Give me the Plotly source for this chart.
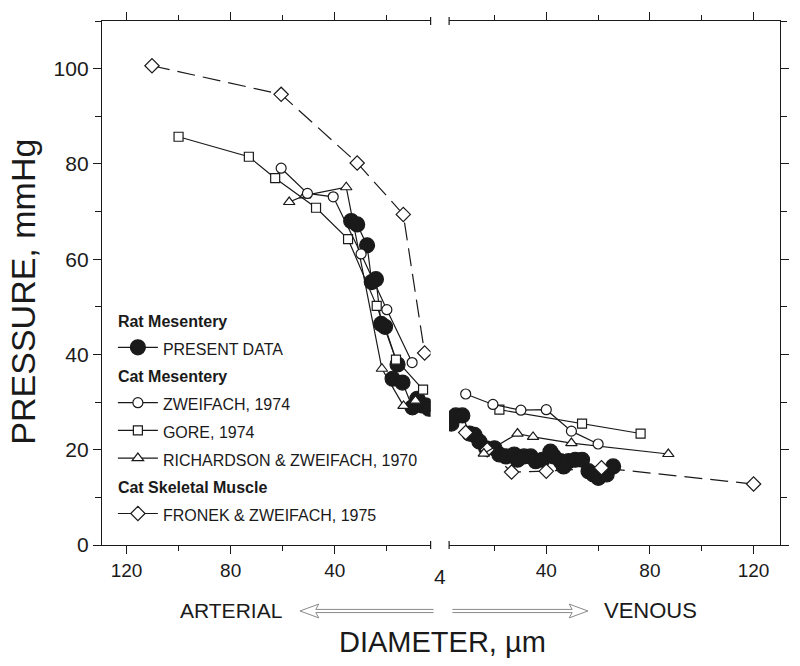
import plotly.graph_objects as go

# ---------------- data (diameter in µm, pressure in mmHg) ----------------
present_art_d = [33.7, 31.4, 27.6, 25.8, 24.2, 22.2, 20.7, 15.9, 17.8, 14.0, 10.2, 8.3, 6.5, 5.1, 3.8]
present_art_p = [68.0, 67.3, 62.9, 55.2, 55.8, 46.4, 45.8, 37.9, 34.9, 34.1, 28.9, 30.7, 29.3, 29.3, 28.6]
present_ven_d = [3.4, 5.1, 7.6, 10.4, 12.3, 14.2, 16.8, 20.0, 21.9, 24.4, 27.6, 28.9, 31.4, 34.0,
                 35.9, 38.5, 41.6, 42.9, 45.5, 46.7, 48.6, 51.2, 53.8, 56.3, 58.2, 60.1, 63.3, 65.8]
present_ven_p = [25.5, 27.2, 27.2, 23.4, 23.1, 21.7, 20.3, 20.3, 19.0, 18.6, 19.0, 17.9, 18.6, 18.6,
                 17.6, 17.9, 19.6, 18.6, 17.6, 16.5, 17.6, 17.9, 17.9, 15.5, 14.8, 14.1, 14.8, 16.5]

zweifach_art_d = [60.6, 50.5, 40.6, 29.9, 20.0, 10.3]
zweifach_art_p = [79.1, 73.8, 73.1, 61.1, 49.4, 38.3]
zweifach_ven_d = [8.9, 19.4, 30.2, 40.0, 49.7, 60.0]
zweifach_ven_p = [31.7, 29.5, 28.3, 28.4, 23.9, 21.2]

gore_art_d = [100.0, 73.0, 62.9, 47.2, 34.9, 23.9, 16.5, 6.1]
gore_art_p = [85.7, 81.5, 77.0, 70.8, 64.2, 50.2, 38.9, 32.6]
gore_ven_d = [21.9, 53.8, 76.4]
gore_ven_p = [28.4, 25.5, 23.4]

richardson_art_d = [57.5, 51.4, 35.6, 21.9, 13.6, 9.0]
richardson_art_p = [72.0, 73.4, 75.1, 37.0, 29.2, 30.3]
richardson_ven_d = [15.9, 28.9, 34.9, 49.7, 87.1]
richardson_ven_p = [19.2, 23.4, 22.7, 21.4, 19.1]

fronek_art_d = [110.2, 60.6, 31.4, 13.7, 5.5]
fronek_art_p = [100.6, 94.6, 80.2, 69.4, 40.3]
fronek_ven_d = [8.9, 17.2, 26.6, 40.0, 61.3, 120.0]
fronek_ven_p = [23.6, 20.0, 15.3, 15.5, 16.2, 12.8]

tick_vals = [40, 80, 120]
y_tick_vals = [0, 20, 40, 60, 80, 100]

# ---------------- layout geometry ----------------
W, H = 800, 666
ML, MR, MT, MB = 102, 13, 13, 121
PW, PH = W - ML - MR, H - MT - MB


def px(x):
    return (x - ML) / PW


def py(y):
    return (H - MB - y) / PH


INK = "#1a1a1a"
FONT = "Liberation Sans, Arial, sans-serif"

fig = go.Figure()


def small(t):
    return f"<span style='font-size:16px'>{t}</span>"


def add_series(name, dl, pl, dr, pr, symbol, size, fill, group, gtitle, rank, dash="solid"):
    common = dict(
        mode="lines+markers",
        line=dict(color=INK, width=1.2, dash=dash),
        marker=dict(symbol=symbol, size=size, color=fill,
                    line=dict(color=INK, width=1.2)),
        legendgroup=group,
        legendrank=rank,
    )
    fig.add_trace(go.Scatter(x=dl, y=pl, name=small(name), xaxis="x", yaxis="y",
                             showlegend=True, legendgrouptitle_text=small(gtitle), **common))
    fig.add_trace(go.Scatter(x=dr, y=pr, name=small(name), xaxis="x2", yaxis="y2",
                             showlegend=False, **common))


add_series("PRESENT DATA", present_art_d, present_art_p, present_ven_d, present_ven_p,
           "circle", 15, INK, "rat", "Rat Mesentery", 1)
add_series("FRONEK & ZWEIFACH, 1975", fronek_art_d, fronek_art_p, fronek_ven_d, fronek_ven_p,
           "diamond", 11, "white", "skm", "Cat Skeletal Muscle", 5, dash="18px,8px")
add_series("RICHARDSON & ZWEIFACH, 1970", richardson_art_d, richardson_art_p,
           richardson_ven_d, richardson_ven_p, "triangle-up", 10, "white", "cat", "Cat Mesentery", 4)
add_series("GORE, 1974", gore_art_d, gore_art_p, gore_ven_d, gore_ven_p,
           "square", 9, "white", "cat", "Cat Mesentery", 3)
add_series("ZWEIFACH, 1974", zweifach_art_d, zweifach_art_p, zweifach_ven_d, zweifach_ven_p,
           "circle", 10, "white", "cat", "Cat Mesentery", 2)

xcommon = dict(
    tickvals=tick_vals, ticks="outside", ticklen=8, tickwidth=1.2, tickcolor=INK,
    showline=True, linecolor=INK, linewidth=1.3, mirror="ticks",
    showgrid=False, zeroline=False,
    minor=dict(tickvals=[20, 60, 100], ticks="outside", ticklen=5, tickcolor=INK, tickwidth=1.2),
    tickfont=dict(family=FONT, size=19, color=INK),
)
ycommon = dict(
    range=[0, 110], tickvals=y_tick_vals, ticks="outside", ticklen=8, tickwidth=1.2, tickcolor=INK,
    showline=True, linecolor=INK, linewidth=1.3, showgrid=False, zeroline=False,
    minor=dict(dtick=10, ticks="outside", ticklen=6, tickcolor=INK, tickwidth=1.2),
    tickfont=dict(family=FONT, size=21, color=INK),
)

fig.update_layout(
    width=W, height=H,
    margin=dict(l=ML, r=MR, t=MT, b=MB),
    paper_bgcolor="white", plot_bgcolor="white",
    xaxis=dict(domain=[0, px(434)], range=[129.4, 3.2], anchor="y", **xcommon),
    xaxis2=dict(domain=[px(452.7), 1], range=[2.5, 130.2], anchor="y2", **xcommon),
    yaxis=dict(domain=[0, 1], anchor="x", side="left", **ycommon),
    yaxis2=dict(domain=[0, 1], anchor="x2", side="right", showticklabels=False, **ycommon),
    legend=dict(
        x=px(113), y=py(297), xanchor="left", yanchor="top",
        bgcolor="rgba(0,0,0,0)", traceorder="grouped", tracegroupgap=0,
        font=dict(family=FONT, size=19, color=INK),
        grouptitlefont=dict(family=FONT, size=19, color=INK, weight="bold"),
        itemwidth=40,
    ),
    showlegend=True,
)

annotations = [
    dict(text="4", x=px(443), y=py(577), font=dict(family=FONT, size=21, color=INK)),
    dict(text="ARTERIAL", x=px(232), y=py(611), font=dict(family=FONT, size=21, color=INK)),
    dict(text="VENOUS", x=px(656), y=py(611), font=dict(family=FONT, size=22, color=INK)),
    dict(text="DIAMETER, µm", x=px(446), y=py(643), font=dict(family=FONT, size=29, color=INK)),
    dict(text="PRESSURE, mmHg", x=px(22), y=py(288), textangle=-90,
         font=dict(family=FONT, size=34, color=INK)),
]
for a in annotations:
    a.update(xref="paper", yref="paper", showarrow=False, xanchor="center", yanchor="middle")
fig.update_layout(annotations=annotations)


def path(points):
    return "M " + " L ".join(f"{px(x):.5f},{py(y):.5f}" for x, y in points)


ay = 612
shapes = [
    # hollow arrow pointing left (arterial)
    dict(type="path", path=path([(437, ay - 1.6), (318, ay - 1.6), (321, ay - 7), (302, ay),
                                 (321, ay + 7), (318, ay + 1.6), (437, ay + 1.6)])),
    # hollow arrow pointing right (venous)
    dict(type="path", path=path([(456, ay - 1.6), (577, ay - 1.6), (574, ay - 7), (593, ay),
                                 (574, ay + 7), (577, ay + 1.6), (456, ay + 1.6)])),
]
for s in shapes:
    s.update(xref="paper", yref="paper", line=dict(color="#8a8a8a", width=1))
# small end caps at the axis break
for xb in (434, 452.7):
    for yb in (545, 13):
        shapes.append(dict(type="line", xref="paper", yref="paper",
                           x0=px(xb), x1=px(xb), y0=py(yb - 4), y1=py(yb + 4),
                           line=dict(color=INK, width=1.2)))
fig.update_layout(shapes=shapes)

fig.write_html("out.html", config={"displayModeBar": False},
               post_script="document.body.style.margin='0';")
